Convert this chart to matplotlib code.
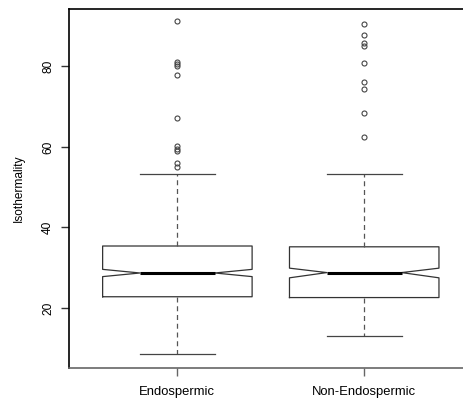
import matplotlib
matplotlib.use("Agg")
import matplotlib.pyplot as plt

plt.rcParams['font.family'] = ['Liberation Sans', 'DejaVu Sans']

# group names and box statistics
groups = ["Endospermic", "Non-Endospermic"]
medians = [28.7, 28.8]
q1 = [22.8, 22.6]
q3 = [35.4, 35.2]
whislo = [8.6, 13.1]
whishi = [53.4, 53.2]
cilo = [27.8, 27.5]
cihi = [29.6, 29.9]
outliers_endo = [91.2, 81.0, 80.5, 80.0, 77.8, 67.1, 60.2, 59.6, 59.0, 56.0, 55.0]
outliers_non = [90.5, 87.7, 85.7, 85.0, 80.9, 76.2, 74.5, 68.5, 62.5]
yticks = [20, 40, 60, 80]

fliers = [outliers_endo, outliers_non]
stats = []
for i in range(len(groups)):
    stats.append(dict(med=medians[i], q1=q1[i], q3=q3[i],
                      whislo=whislo[i], whishi=whishi[i],
                      cilo=cilo[i], cihi=cihi[i],
                      fliers=fliers[i], label=groups[i]))

fig = plt.figure(figsize=(4.64, 4.01), dpi=100)
ax = fig.add_axes([69 / 464, (401 - 368) / 401, (464 - 69) / 464, (368 - 9.3) / 401])

ax.bxp(stats, positions=[1, 2], widths=0.8, shownotches=True,
       boxprops=dict(color="#333333", linewidth=0.9),
       whiskerprops=dict(color="#555555", linestyle=(0, (4, 3)), linewidth=0.9),
       capprops=dict(color="#444444", linewidth=0.9),
       medianprops=dict(color="black", linewidth=2.2),
       flierprops=dict(marker="o", markersize=3.6, markerfacecolor="none",
                       markeredgecolor="#444444", markeredgewidth=0.8))

ax.set_xlim(0.42, 2.534)
ax.set_ylim(5.11, 94.17)

ax.spines["right"].set_visible(False)
ax.spines["left"].set_color("black")
ax.spines["top"].set_color("black")
ax.spines["bottom"].set_color("#666666")
for s in ax.spines.values():
    s.set_linewidth(1.2)

ax.set_yticks(yticks)
ax.set_yticklabels([str(t) for t in yticks], rotation=90, va="center", fontsize=8.6)
ax.set_xticks([1, 2])
ax.set_xticklabels(groups, fontsize=9.4)
ax.tick_params(axis="y", length=5.8, width=1, color="#333333", pad=5)
ax.tick_params(axis="x", length=5.8, width=1, color="#666666", pad=7)
ax.set_ylabel("Isothermality", fontsize=8.6, labelpad=12)

fig.savefig("out.png", dpi=100)
